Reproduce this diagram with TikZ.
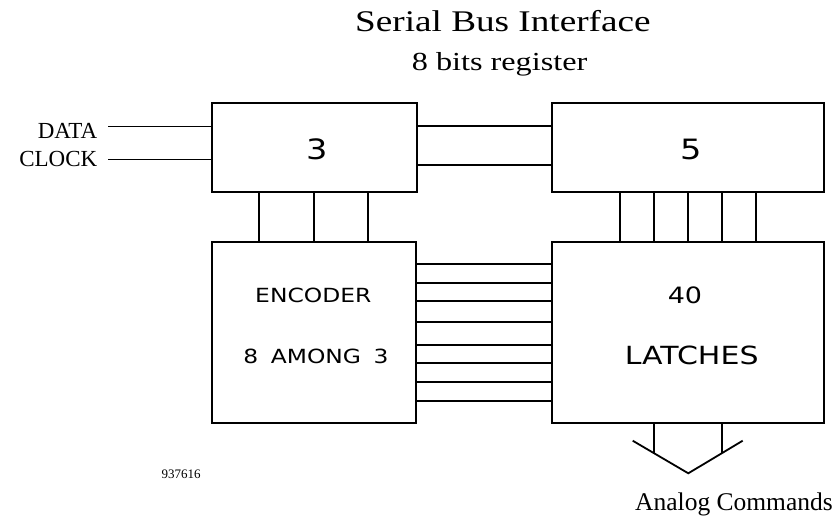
\documentclass[tikz,border=0pt]{standalone}
\usepackage{fontspec}
\setmainfont{Liberation Serif}
\newfontfamily\wideserif[FakeStretch=1.24]{Liberation Serif}
\newfontfamily\plotfont[FakeStretch=1.2]{DejaVu Sans}
\newfontfamily\plotwide[FakeStretch=1.2, WordSpace=1.3]{DejaVu Sans}
\begin{document}
\begin{tikzpicture}[x=1pt,y=-1pt,
  blk/.style={draw, line width=2pt, inner sep=0pt},
  wire/.style={line width=1.8pt},
  ptxt/.style={font=\plotfont, inner sep=0pt},
  stxt/.style={inner sep=0pt}]
\useasboundingbox (0,0) rectangle (836,515);
% title
\node[stxt, anchor=base west, font=\wideserif\fontsize{30}{36}\selectfont] (title) at (355,31.7) {Serial Bus Interface};
\node[stxt, anchor=base west, font=\wideserif\fontsize{26}{31}\selectfont] (sub) at (411.7,70) {8 bits register};
% boxes
\node[blk, minimum width=204.8pt, minimum height=88.4pt] (b3) at (314.1,147.5) {};
\node[blk, minimum width=272.6pt, minimum height=88.4pt] (b5) at (688,147.5) {};
\node[blk, minimum width=204.3pt, minimum height=181.2pt] (enc) at (313.85,332.1) {};
\node[blk, minimum width=272.6pt, minimum height=181.2pt] (lat) at (688,332.1) {};
% box texts
\node[ptxt, font=\plotfont\fontsize{28}{30}\selectfont] (t3) at (316.7,149) {3};
\node[ptxt, font=\plotfont\fontsize{28}{30}\selectfont] (t5) at (690.7,149) {5};
\node[ptxt, font=\plotfont\fontsize{19.5}{22}\selectfont] (tenc) at (313.3,295.7) {ENCODER};
\node[ptxt, font=\plotwide\fontsize{19.5}{22}\selectfont] (tamong) at (316,356) {8 AMONG 3};
\node[ptxt, font=\plotfont\fontsize{22.5}{24}\selectfont] (t40) at (685,295) {40};
\node[ptxt, font=\plotfont\fontsize{25}{28}\selectfont] (tlat) at (691.7,355) {LATCHES};
% inputs
\node[stxt, anchor=base east, font=\fontsize{23}{27}\selectfont] (data) at (97.5,138.3) {DATA};
\node[stxt, anchor=base east, font=\fontsize{23}{27}\selectfont] (clock) at (97.5,166.7) {CLOCK};
\coordinate (dataend) at (108,126.5);
\coordinate (clockend) at (108,159.5);
\draw[wire] (dataend) -- (dataend -| b3.west);
\draw[wire] (clockend) -- (clockend -| b3.west);
% box3 -> box5
\foreach \yy in {125.7,165} \draw[wire] (b3.east |- 0,\yy) -- (b5.west |- 0,\yy);
% box3 -> encoder
\foreach \xx in {259.3,314,368.3} \draw[wire] (b3.south -| \xx,0) -- (enc.north -| \xx,0);
% box5 -> latches
\foreach \xx in {620,654.3,688.3,722.3,756} \draw[wire] (b5.south -| \xx,0) -- (lat.north -| \xx,0);
% encoder -> latches
\foreach \yy in {264.3,282.7,301,321.7,345,362.7,382.3,400.7} \draw[wire] (enc.east |- 0,\yy) -- (lat.west |- 0,\yy);
% output
\coordinate (vl) at (632.7,440.7);
\coordinate (vt) at (688.3,473.3);
\coordinate (vr) at (742.7,440.7);
\draw[wire] (vl) -- (vt) -- (vr);
\draw[wire] (lat.south -| 654.3,0) -- (654.3,453.4);
\draw[wire] (lat.south -| 722.3,0) -- (722.3,453.4);
\node[stxt, anchor=base west, font=\fontsize{25.5}{30}\selectfont] (analog) at (635,510) {Analog Commands};
\node[stxt, font=\fontsize{13}{15}\selectfont] (code) at (181,474) {937616};
\end{tikzpicture}
\end{document}
